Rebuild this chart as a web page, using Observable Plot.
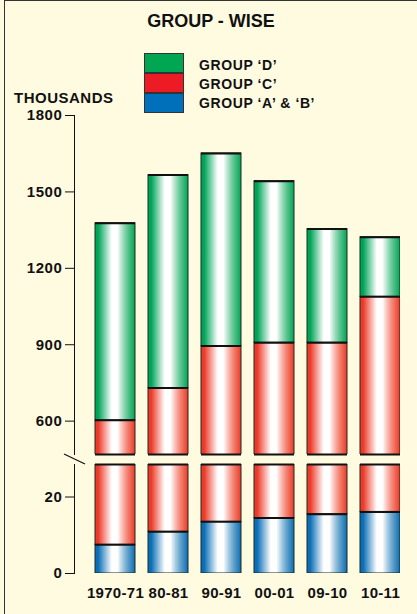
<!DOCTYPE html>
<html><head><meta charset="utf-8">
<script src="https://cdn.jsdelivr.net/npm/d3@7"></script>
<script src="https://cdn.jsdelivr.net/npm/@observablehq/plot@0.6"></script>
<style>
html,body{margin:0;padding:0;}
body{width:417px;height:614px;overflow:hidden;background:#FFFBE1;font-family:"Liberation Sans",Arial,Helvetica,sans-serif;font-weight:bold;color:#111;position:relative;}
#border{position:absolute;left:4px;top:0;width:420px;height:620px;border-left:1.5px solid #333;border-top:1.5px solid #333;}
.abs{position:absolute;}
#title{left:0;width:422px;top:11px;text-align:center;font-size:18px;line-height:20px;}
#units{left:14px;top:89px;font-size:15px;letter-spacing:0.5px;line-height:18px;}
.sw{position:absolute;left:144px;width:40px;height:20px;box-sizing:border-box;border:1px solid #333;}
.lt{position:absolute;left:199px;font-size:14px;letter-spacing:0.6px;line-height:16px;}
#plots svg{position:absolute;left:0;top:0;}
[aria-label^="x-axis"]{letter-spacing:0.3px;}
[aria-label^="y-axis"]{letter-spacing:0.6px;}
</style>
</head><body>
<div id="border"></div>
<div id="title" class="abs">GROUP - WISE</div>
<div id="legend"></div>
<div id="units" class="abs">THOUSANDS</div>
<div id="plots"></div>
<script>
const periods = ["1970-71", "80-81", "90-91", "00-01", "09-10", "10-11"];
const seriesNames = ["GROUP ‘A’ & ‘B’", "GROUP ‘C’", "GROUP ‘D’"];
const groupAB = [7.5, 10.9, 13.5, 14.5, 15.5, 16.1];
const groupC = [595.5, 719.1, 881.5, 893.5, 892.5, 1071.9];
const groupD = [774, 836, 756, 634, 446, 234];
const upperTicks = [600, 900, 1200, 1500, 1800];
const lowerTicks = [0, 20];
const upperDomain = [469, 1800];
const lowerDomain = [0, 28.5];
const baseColors = ["#0A6EB6", "#EC3A28", "#00A458"];
const swatchColors = ["#0070BA", "#ED1C24", "#00A651"];

// gradients
const gradIds = ["gAB", "gC", "gD"];
const defsSvg = d3.select("body").append("svg").attr("width", 0).attr("height", 0).style("position", "absolute");
const defs = defsSvg.append("defs");
gradIds.forEach((id, i) => {
  const g = defs.append("linearGradient").attr("id", id).attr("x1", 0).attr("x2", 1).attr("y1", 0).attr("y2", 0);
  const c = baseColors[i];
  [[0, c, 1], [0.08, c, 1], [0.42, "#fff", 1], [0.56, "#fff", 1], [0.9, c, 0.8], [1, c, 1]].forEach(([o, col, op]) =>
    g.append("stop").attr("offset", o).attr("stop-color", col).attr("stop-opacity", op));
});
const gradUrls = gradIds.map(id => `url(#${id})`);

// legend
const legend = document.getElementById("legend");
const legendOrder = [2, 1, 0];
legendOrder.forEach((s, k) => {
  const sw = document.createElement("div");
  sw.className = "sw"; sw.style.top = (53 + 20 * k) + "px"; sw.style.background = swatchColors[s];
  legend.appendChild(sw);
  const t = document.createElement("div");
  t.className = "lt"; t.style.top = (57 + 19 * k) + "px"; t.textContent = seriesNames[s];
  legend.appendChild(t);
});

const rows = [];
periods.forEach((p, i) => {
  rows.push({period: p, group: seriesNames[0], value: groupAB[i]});
  rows.push({period: p, group: seriesNames[1], value: groupC[i]});
  rows.push({period: p, group: seriesNames[2], value: groupD[i]});
});

const common = {
  width: 417,
  marginLeft: 74, marginRight: 17,
  style: {background: "transparent", fontFamily: "'Liberation Sans', Arial, sans-serif", fontWeight: "bold", fontSize: "15px", color: "#111", overflow: "visible"},
  color: {type: "ordinal", domain: seriesNames, range: gradUrls}
};
const xScale = {domain: periods, range: [94, 400], paddingInner: 0.25, paddingOuter: 0};

function barMarks(edgeValue) {
  return [
    Plot.rectY(rows, Plot.stackY({x: "period", y: "value", fill: "group", order: null, stroke: "#1d2a22", strokeWidth: 1, clip: true})),
    Plot.tickY(rows, Plot.stackY2({x: "period", y: "value", order: null, stroke: "#111", strokeWidth: 2, clip: true})),
    Plot.tickY(periods, {x: d => d, y: () => edgeValue, stroke: "#111", strokeWidth: 2})
  ];
}

const upper = Plot.plot({
  ...common,
  height: 460, marginTop: 115, marginBottom: 6,
  x: {...xScale, axis: null},
  y: {domain: upperDomain, ticks: upperTicks, tickSize: 9, tickPadding: 3, tickFormat: d => String(d), label: null, line: true},
  marks: barMarks(upperDomain[0])
});

const lower = Plot.plot({
  ...common,
  height: 614, marginTop: 464, marginBottom: 41,
  x: {...xScale, tickSize: 0, tickPadding: 14, label: null},
  y: {domain: lowerDomain, ticks: lowerTicks, tickSize: 9, tickPadding: 3, tickFormat: d => String(d), label: null, line: true},
  marks: [
    ...barMarks(lowerDomain[1]),
    (index, scales, values, dims) => {
      const x0 = dims.marginLeft + 0.5, y0 = dims.marginTop;
      const p = document.createElementNS("http://www.w3.org/2000/svg", "path");
      p.setAttribute("d", `M${x0 - 10.5},${y0 - 10}L${x0 + 10.5},${y0}`);
      p.setAttribute("stroke", "#111"); p.setAttribute("fill", "none"); p.setAttribute("stroke-width", "1.2");
      return p;
    }
  ]
});

const host = document.getElementById("plots");
host.appendChild(upper);
host.appendChild(lower);
</script>
</body></html>
